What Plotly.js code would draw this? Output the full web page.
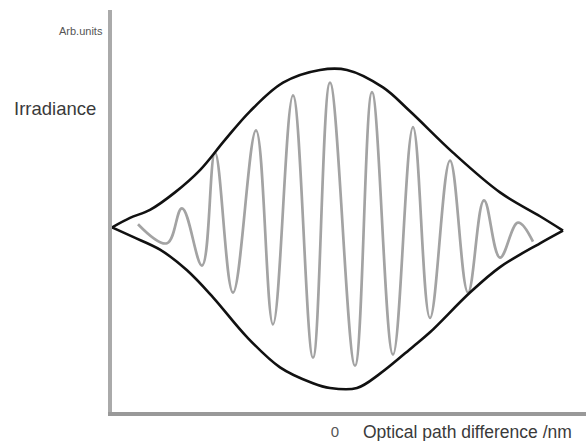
<!DOCTYPE html>
<html>
<head>
<meta charset="utf-8">
<script src="https://cdn.plot.ly/plotly-3.0.1.min.js"></script>
<style>html,body{margin:0;padding:0;background:#fff;}#chart{width:586px;height:441px;}</style>
</head>
<body>
<div id="chart"></div>
<script>
// Optical path difference (nm) and irradiance (arb. units)
const upperEnvX = [-2230, -2050, -1850, -1600, -1350, -1100, -850, -520, -150, 120, 480, 750, 1180, 1650, 2050, 2280];
const upperEnvY = [1.01, 1.07, 1.12, 1.23, 1.37, 1.56, 1.74, 1.92, 2.00, 2.00, 1.89, 1.74, 1.48, 1.23, 1.08, 0.99];

const lowerEnvX = [-2230, -2020, -1750, -1480, -1220, -880, -550, -220, -50, 220, 450, 780, 950, 1350, 1650, 2050, 2280];
const lowerEnvY = [1.01, 0.95, 0.87, 0.74, 0.57, 0.32, 0.13, 0.03, 0.00, 0.00, 0.09, 0.26, 0.35, 0.60, 0.76, 0.91, 0.99];

const fringeX = [-1970, -1680, -1530, -1330, -1200, -1020, -790, -620, -420, -220, -50, 200, 370, 580, 780, 950, 1150, 1330, 1490, 1650, 1830, 1980];
const fringeY = [1.03, 0.91, 1.13, 0.77, 1.48, 0.60, 1.62, 0.40, 1.84, 0.19, 1.92, 0.14, 1.86, 0.21, 1.64, 0.44, 1.43, 0.60, 1.18, 0.82, 1.04, 0.92];

const xTickVals = [0];
const xTickText = ['0'];

const FONT = 'Liberation Sans, Arial, sans-serif';

const traces = [
  {x: fringeX, y: fringeY, type: 'scatter', mode: 'lines',
   line: {color: '#a3a3a3', width: 2.7, shape: 'spline', smoothing: 1.1}, hoverinfo: 'skip'},
  {x: upperEnvX, y: upperEnvY, type: 'scatter', mode: 'lines',
   line: {color: '#111', width: 2.6, shape: 'spline', smoothing: 1}, hoverinfo: 'skip'},
  {x: lowerEnvX, y: lowerEnvY, type: 'scatter', mode: 'lines',
   line: {color: '#111', width: 2.6, shape: 'spline', smoothing: 1}, hoverinfo: 'skip'}
];

const layout = {
  width: 586, height: 441,
  margin: {l: 112, r: 0, t: 10, b: 29},
  paper_bgcolor: '#fff', plot_bgcolor: '#fff',
  showlegend: false,
  font: {family: FONT, color: '#444'},
  xaxis: {range: [-2230, 2510], showgrid: false, zeroline: false,
          showline: true, linecolor: '#999', linewidth: 4,
          tickvals: xTickVals, ticktext: xTickText, ticks: '',
          ticklabelstandoff: 3,
          tickfont: {size: 15, color: '#555', family: FONT}},
  yaxis: {range: [-0.151, 2.377], showgrid: false, zeroline: false,
          showline: true, linecolor: '#aaa', linewidth: 4,
          showticklabels: false, ticks: ''},
  annotations: [
    {text: 'Irradiance', xref: 'paper', yref: 'paper', x: -0.211, y: 0.756,
     xanchor: 'left', yanchor: 'middle', showarrow: false,
     font: {size: 18.5, color: '#3a3a3a', family: FONT}},
    {text: 'Arb.units', xref: 'paper', yref: 'paper', x: -0.015, y: 0.948,
     xanchor: 'right', yanchor: 'middle', showarrow: false,
     font: {size: 11, color: '#555', family: FONT}},
    {text: 'Optical path difference /nm', xref: 'paper', yref: 'paper', x: 0.525, y: -0.0498,
     xanchor: 'left', yanchor: 'middle', showarrow: false,
     font: {size: 17.5, color: '#3a3a3a', family: FONT}}
  ]
};

Plotly.newPlot('chart', traces, layout, {displayModeBar: false, staticPlot: true});
</script>
</body>
</html>
